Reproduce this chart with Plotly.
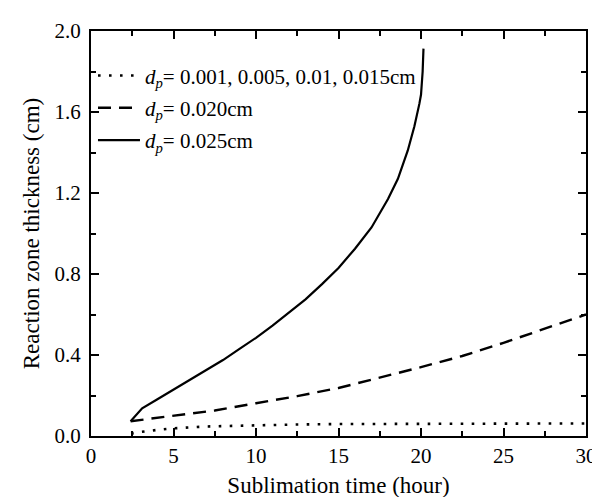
import plotly.graph_objects as go

# dp = 0.001, 0.005, 0.01, 0.015 cm (dotted)
t_small = [2.43, 3.0, 4.0, 5.0, 7.0, 10.0, 12.5, 15.0, 20.0, 25.0, 30.0]
z_small = [0.012, 0.020, 0.030, 0.038, 0.047, 0.053, 0.057, 0.059, 0.061, 0.062, 0.062]

# dp = 0.020 cm (dashed)
t_020 = [2.4, 5.0, 7.5, 10.0, 12.5, 15.0, 17.5, 20.0, 22.5, 25.0, 27.5, 30.0]
z_020 = [0.073, 0.100, 0.126, 0.162, 0.197, 0.237, 0.288, 0.340, 0.395, 0.460, 0.530, 0.600]

# dp = 0.025 cm (solid)
t_025 = [2.4, 3.1, 4.0, 5.0, 6.0, 7.0, 8.0, 9.0, 10.0, 11.0, 12.0, 13.0, 14.0,
         15.0, 16.0, 17.0, 18.0, 18.6, 19.2, 19.6, 19.9, 20.0, 20.1, 20.15]
z_025 = [0.073, 0.137, 0.180, 0.228, 0.275, 0.325, 0.375, 0.430, 0.485, 0.545,
         0.610, 0.675, 0.750, 0.830, 0.925, 1.030, 1.170, 1.270, 1.410, 1.530,
         1.640, 1.685, 1.800, 1.913]

names = ["<i>d</i><sub><i>p</i></sub>= 0.001, 0.005, 0.01, 0.015cm",
         "<i>d</i><sub><i>p</i></sub>= 0.020cm",
         "<i>d</i><sub><i>p</i></sub>= 0.025cm"]

FONT = "Liberation Serif"

fig = go.Figure()
fig.add_trace(go.Scatter(x=t_small, y=z_small, mode="lines", name=names[0],
                         legendgroup="a",
                         line=dict(color="black", width=2.6, dash="2.6px,8.4px")))
fig.add_trace(go.Scatter(x=t_020, y=z_020, mode="lines", name=names[1],
                         legendgroup="b",
                         line=dict(color="black", width=2.4, dash="13px,8px")))
fig.add_trace(go.Scatter(x=t_025, y=z_025, mode="lines", name=names[2],
                         legendgroup="c",
                         line=dict(color="black", width=2.2)))

axis_common = dict(
    showline=True, linecolor="black", linewidth=2, mirror="ticks",
    ticks="inside", ticklen=8, tickwidth=1.5, tickcolor="black",
    showgrid=False, zeroline=False,
    tickfont=dict(family=FONT, size=21, color="black"),
)

fig.update_xaxes(range=[0, 30], dtick=5, tick0=0,
                 minor=dict(dtick=2.5, ticks="inside", ticklen=5, tickcolor="black", tickwidth=1.5),
                 title=dict(text="Sublimation time (hour)", font=dict(family=FONT, size=23, color="black"),
                            standoff=10),
                 **axis_common)
fig.update_yaxes(range=[0, 2.0], dtick=0.4, tick0=0, tickformat=".1f",
                 ticklabelstandoff=4,
                 minor=dict(dtick=0.2, ticks="inside", ticklen=5, tickcolor="black", tickwidth=1.5),
                 title=dict(text="Reaction zone thickness (cm)", font=dict(family=FONT, size=23, color="black"),
                            standoff=8),
                 **axis_common)

fig.update_layout(
    width=600, height=497,
    margin=dict(l=83, r=11, t=18, b=66),
    paper_bgcolor="white", plot_bgcolor="white",
    font=dict(family=FONT, color="black"),
    legend=dict(x=0.004, y=0.94, xanchor="left", yanchor="top",
                bgcolor="rgba(0,0,0,0)", borderwidth=0,
                font=dict(family=FONT, size=21, color="black"),
                itemwidth=42, tracegroupgap=2),
    showlegend=True,
)

fig.write_html("out.html")
